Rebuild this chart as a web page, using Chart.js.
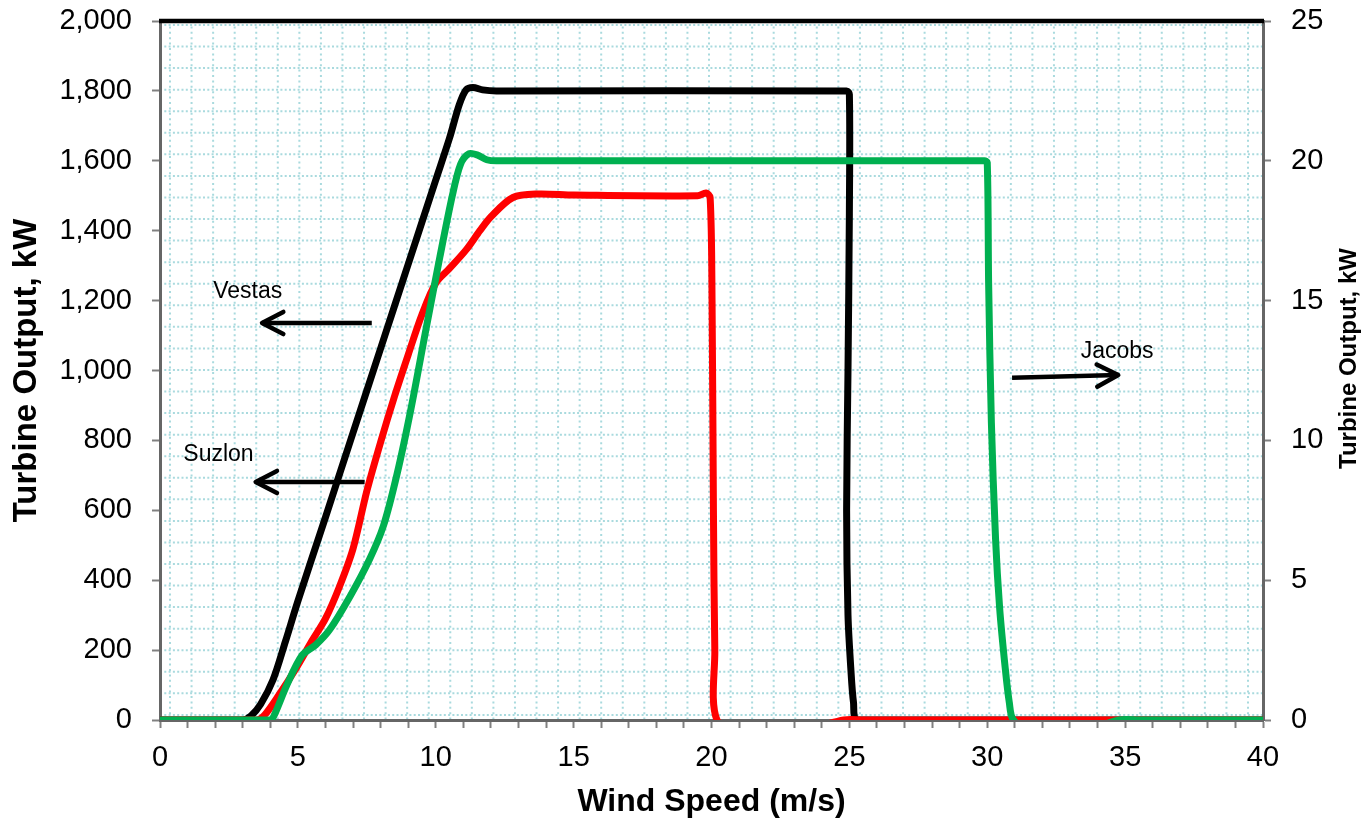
<!DOCTYPE html>
<html>
<head>
<meta charset="utf-8">
<script src="https://cdn.jsdelivr.net/npm/chart.js@4.4.1/dist/chart.umd.min.js"></script>
<style>
    body { margin: 0; background: #ffffff; }
</style>
</head>
<body>
<canvas id="turbineChart" width="1366" height="820"></canvas>
<script>
// power curves: [wind speed (m/s), output (kW)]
const vestas = [
    [0, 0], [3.0, 0], [3.3, 12], [3.65, 45], [4.1, 115], [4.55, 225], [5.0, 340],
    [6, 580], [7, 822], [8, 1063], [9, 1304], [10, 1545], [10.5, 1665], [10.85, 1760],
    [11.1, 1803], [11.35, 1810], [11.7, 1803], [12.2, 1800], [24.9, 1800], [25.0, 1790],
    [25.0, 1450], [24.95, 1000], [24.9, 600], [24.95, 300], [25.05, 150], [25.15, 50],
    [25.3, 0], [40, 0]
];
const suzlon = [
    [0, 0], [3.5, 0], [3.8, 15], [4.3, 70], [4.95, 150], [5.5, 225], [6.0, 290],
    [6.5, 380], [7.0, 490], [7.5, 655], [8.0, 795], [8.5, 925], [9.0, 1045], [9.5, 1160],
    [10, 1250], [10.5, 1292], [11.1, 1345], [11.6, 1400], [12, 1440], [12.8, 1495],
    [13.7, 1505], [15, 1502], [19.5, 1500], [19.8, 1508], [19.95, 1495], [20.02, 1200],
    [20.07, 600], [20.12, 200], [20.2, 0], [21.5, -60], [24.8, 0], [25.5, 0], [40, 0]
];
const jacobs = [
    [0, 0], [4.0, 0], [4.15, 15], [4.6, 100], [5.15, 185], [5.65, 215], [6.15, 258],
    [6.9, 355], [7.6, 460], [8.1, 555], [8.6, 705], [9.1, 890], [9.65, 1120], [10.15, 1325],
    [10.6, 1500], [10.9, 1590], [11.2, 1620], [11.5, 1617], [11.85, 1603], [12.2, 1600],
    [29.9, 1600], [30, 1595], [30.05, 1250], [30.15, 850], [30.3, 520], [30.45, 320],
    [30.65, 150], [30.8, 50], [30.95, 0], [32, -60], [34.8, 0], [35.5, 0], [40, 0]
];

const speedLabels = [0, 5, 10, 15, 20, 25, 30, 35, 40];
const outputTicks = [0, 200, 400, 600, 800, 1000, 1200, 1400, 1600, 1800, 2000];
const rightTicks = [0, 5, 10, 15, 20, 25];

// text notes and their arrows, in data units
const noteText = ['Vestas', 'Suzlon', 'Jacobs'];
const notePos = [[3.18, 1227], [2.12, 758], [34.71, 1053]];
const arrowFrom = [[7.68, 1136], [7.42, 681], [30.9, 979]];
const arrowTo = [[3.7, 1136], [3.47, 681], [34.75, 987]];

const FONT = "'Liberation Sans', Arial, sans-serif";

function toPoints(arr) {
    return arr.map(p => ({ x: p[0], y: p[1] }));
}

// the tick padding should not push the plot area in
function fixSize(prop, size) {
    return function (s) {
        s[prop] = size;
        s.paddingTop = 0;
        s.paddingBottom = 0;
        s.paddingLeft = 0;
        s.paddingRight = 0;
    };
}

// white plot area with the light cyan dotted grid pattern, black top border
const plotBackground = {
    id: 'plotBackground',
    beforeDraw(chart) {
        const ctx = chart.ctx;
        const a = chart.chartArea;
        const step = 21.56;
        ctx.save();
        ctx.fillStyle = '#ffffff';
        ctx.fillRect(0, 0, chart.width, chart.height);
        ctx.strokeStyle = '#a9dade';
        ctx.lineWidth = 2;
        ctx.setLineDash([2, 2.3]);
        for (let y = a.top + 4; y < a.bottom - 2; y += step) {
            ctx.beginPath();
            ctx.moveTo(a.left, y);
            ctx.lineTo(a.right, y);
            ctx.stroke();
        }
        ctx.setLineDash([2, 3.4]);
        for (let x = a.left + 10; x < a.right - 2; x += step) {
            ctx.beginPath();
            ctx.moveTo(x, a.top);
            ctx.lineTo(x, a.bottom);
            ctx.stroke();
        }
        ctx.restore();
    },
    beforeDatasetsDraw(chart) {
        const ctx = chart.ctx;
        const a = chart.chartArea;
        ctx.save();
        ctx.strokeStyle = '#000000';
        ctx.lineWidth = 4.5;
        ctx.beginPath();
        ctx.moveTo(a.left - 1, a.top);
        ctx.lineTo(a.right + 1, a.top);
        ctx.stroke();
        ctx.restore();
    }
};

// arrows, labels and the right axis title (reads bottom to top like the left one)
const notes = {
    id: 'notes',
    afterDatasetsDraw(chart) {
        const ctx = chart.ctx;
        const xs = chart.scales.x;
        const ys = chart.scales.y;
        ctx.save();
        ctx.fillStyle = '#000000';
        ctx.strokeStyle = '#000000';
        ctx.font = '23px ' + FONT;
        ctx.textAlign = 'center';
        ctx.textBaseline = 'middle';
        noteText.forEach((t, i) => {
            ctx.fillText(t, xs.getPixelForValue(notePos[i][0]), ys.getPixelForValue(notePos[i][1]));

            const x0 = xs.getPixelForValue(arrowFrom[i][0]);
            const y0 = ys.getPixelForValue(arrowFrom[i][1]);
            const x1 = xs.getPixelForValue(arrowTo[i][0]);
            const y1 = ys.getPixelForValue(arrowTo[i][1]);
            const ang = Math.atan2(y1 - y0, x1 - x0);
            const head = 24;
            const spread = 0.48;
            ctx.lineWidth = 4.5;
            ctx.lineCap = 'butt';
            ctx.beginPath();
            ctx.moveTo(x0, y0);
            ctx.lineTo(x1, y1);
            ctx.stroke();
            ctx.lineCap = 'round';
            ctx.lineJoin = 'round';
            ctx.beginPath();
            ctx.moveTo(x1 - head * Math.cos(ang - spread), y1 - head * Math.sin(ang - spread));
            ctx.lineTo(x1, y1);
            ctx.lineTo(x1 - head * Math.cos(ang + spread), y1 - head * Math.sin(ang + spread));
            ctx.stroke();
        });

        const a = chart.chartArea;
        ctx.translate(a.right + 86, (a.top + a.bottom) / 2 - 12);
        ctx.rotate(-Math.PI / 2);
        ctx.font = 'bold 24px ' + FONT;
        ctx.fillText('Turbine Output, kW', 0, 0);
        ctx.restore();
    }
};

const tickFont = { family: FONT, size: 29 };
const axisBorder = { color: '#666666', width: 3 };
const tickGrid = { drawOnChartArea: false, tickLength: 8, tickColor: '#808080', tickWidth: 2 };

const ctx = document.getElementById('turbineChart').getContext('2d');
const chart = new Chart(ctx, {
    type: 'line',
    data: {
        // first dataset is painted last, so green ends up on top like the original
        datasets: [
            { label: 'Jacobs', data: toPoints(jacobs), borderColor: '#00b050' },
            { label: 'Suzlon', data: toPoints(suzlon), borderColor: '#ff0000' },
            { label: 'Vestas', data: toPoints(vestas), borderColor: '#000000' }
        ]
    },
    options: {
        responsive: false,
        animation: false,
        layout: { padding: { top: 21, left: 0, right: 0, bottom: 0 } },
        elements: {
            point: { radius: 0 },
            line: { tension: 0.3, borderWidth: 7, borderCapStyle: 'round', borderJoinStyle: 'round', fill: false }
        },
        plugins: {
            legend: { display: false },
            tooltip: { enabled: false }
        },
        scales: {
            x: {
                type: 'linear',
                min: 0,
                max: 40,
                afterFit: fixSize('height', 100),
                ticks: {
                    stepSize: 1,
                    autoSkip: false,
                    maxRotation: 0,
                    color: '#000000',
                    font: tickFont,
                    padding: 13,
                    callback: v => speedLabels.includes(v) ? String(v) : ''
                },
                grid: tickGrid,
                border: axisBorder,
                title: {
                    display: true,
                    text: 'Wind Speed (m/s)',
                    color: '#000000',
                    font: { family: FONT, size: 32, weight: 'bold', lineHeight: 1 },
                    padding: { top: 0, bottom: 2 }
                }
            },
            y: {
                position: 'left',
                min: 0,
                max: 2000,
                afterBuildTicks: s => { s.ticks = outputTicks.map(v => ({ value: v })); },
                afterFit: fixSize('width', 160),
                ticks: {
                    color: '#000000',
                    font: tickFont,
                    padding: 20,
                    callback: v => v.toLocaleString('en-US')
                },
                grid: tickGrid,
                border: axisBorder,
                title: {
                    display: true,
                    text: 'Turbine Output, kW',
                    color: '#000000',
                    font: { family: FONT, size: 33, weight: 'bold', lineHeight: 1 },
                    padding: { top: 10, bottom: 0 }
                }
            },
            y1: {
                position: 'right',
                min: 0,
                max: 25,
                afterBuildTicks: s => { s.ticks = rightTicks.map(v => ({ value: v })); },
                afterFit: fixSize('width', 103),
                ticks: {
                    color: '#000000',
                    font: tickFont,
                    padding: 20
                },
                grid: tickGrid,
                border: axisBorder
            }
        }
    },
    plugins: [plotBackground, notes]
});
</script>
</body>
</html>
